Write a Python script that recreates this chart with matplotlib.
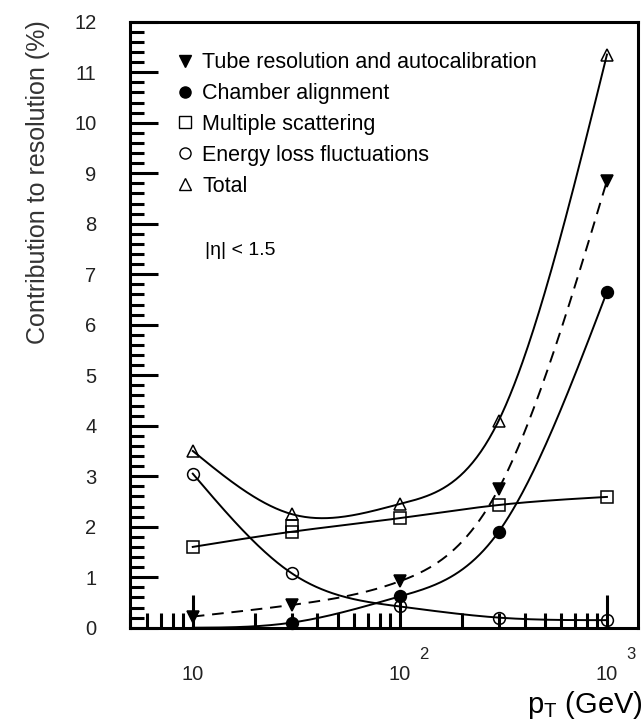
import matplotlib
matplotlib.use('Agg')
import matplotlib.pyplot as plt
from matplotlib.lines import Line2D
from matplotlib.ticker import FixedLocator, LogLocator, NullFormatter, MultipleLocator
import numpy as np

# pT points (GeV) and contributions (%)
pt = np.array([10, 30, 100, 300, 1000])
tube = np.array([0.22, 0.45, 0.92, 2.75, 8.85])
chamber = np.array([0.0, 0.10, 0.62, 1.90, 6.65])
mult_scat = np.array([1.60, 1.90, 2.17, 2.43, 2.59])
eloss = np.array([3.05, 1.08, 0.42, 0.20, 0.15])
total = np.array([3.50, 2.25, 2.45, 4.10, 11.35])

# extra square drawn at 30 GeV (overlapping marker)
ms_extra_x = [30]
ms_extra_y = [2.02]

xticks = [10, 100, 1000]
xtick_exp = ['', '2', '3']


def spline(x, y, n=300):
    """natural cubic spline in log10(x), used only for drawing the curves"""
    t = np.log10(x)
    k = len(t)
    h = np.diff(t)
    A = np.zeros((k, k))
    b = np.zeros(k)
    A[0, 0] = A[-1, -1] = 1
    for i in range(1, k - 1):
        A[i, i - 1] = h[i - 1]
        A[i, i] = 2 * (h[i - 1] + h[i])
        A[i, i + 1] = h[i]
        b[i] = 3 * ((y[i + 1] - y[i]) / h[i] - (y[i] - y[i - 1]) / h[i - 1])
    c = np.linalg.solve(A, b)
    bb = (y[1:] - y[:-1]) / h - h * (2 * c[:-1] + c[1:]) / 3
    d = (c[1:] - c[:-1]) / (3 * h)
    tt = np.linspace(t[0], t[-1], n)
    idx = np.clip(np.searchsorted(t, tt) - 1, 0, k - 2)
    dt = tt - t[idx]
    yy = y[idx] + bb[idx] * dt + c[idx] * dt ** 2 + d[idx] * dt ** 3
    return 10 ** tt, yy


plt.rcParams.update({
    'font.family': ['Liberation Sans', 'DejaVu Sans'],
    'mathtext.default': 'regular',
})

fig = plt.figure(figsize=(6.43, 7.24), dpi=100)
ax = fig.add_axes([0.202, 0.133, 0.790, 0.837])

lw = 1.4
ax.plot(*spline(pt, tube), '--', color='black', lw=lw, dashes=(6, 4))
ax.plot(*spline(pt, chamber), '-', color='black', lw=lw)
ax.plot(*spline(pt, mult_scat), '-', color='black', lw=lw)
ax.plot(*spline(pt, eloss), '-', color='black', lw=lw)
ax.plot(*spline(pt, total), '-', color='black', lw=lw)

mk = dict(linestyle='none', markersize=8.5, markeredgewidth=1.1, color='black', clip_on=False)
ax.plot(pt, tube, marker='v', markerfacecolor='black', **mk)
ax.plot(pt[1:], chamber[1:], marker='o', markerfacecolor='black', **mk)
ax.plot(pt, mult_scat, marker='s', markerfacecolor='none', **mk)
ax.plot(ms_extra_x, ms_extra_y, marker='s', markerfacecolor='none', **mk)
ax.plot(pt, eloss, marker='o', markerfacecolor='none', **mk)
ax.plot(pt, total, marker='^', markerfacecolor='none', **mk)

ax.set_xscale('log')
ax.set_xlim(4.97, 1410)
ax.set_ylim(0, 12)

ax.yaxis.set_major_locator(MultipleLocator(1))
ax.yaxis.set_minor_locator(MultipleLocator(0.2))
ax.xaxis.set_major_locator(FixedLocator(xticks))
ax.xaxis.set_minor_locator(LogLocator(base=10, subs=np.arange(2, 10)))
ax.xaxis.set_minor_formatter(NullFormatter())
ax.set_xticklabels(['10'] * len(xticks))

ax.tick_params(axis='both', which='both', direction='in', width=2.2,
               top=False, right=False, labelsize=14.5, labelcolor='#222222')
ax.tick_params(axis='y', which='major', length=20, pad=24)
ax.tick_params(axis='y', which='minor', length=10)
ax.tick_params(axis='x', which='major', length=24, pad=27)
ax.tick_params(axis='x', which='minor', length=11)
for s in ax.spines.values():
    s.set_linewidth(2.2)

# raised exponents next to the "10" tick labels
for xv, e in zip(xticks, xtick_exp):
    if e:
        ax.annotate(e, xy=(xv, 0), xycoords=('data', 'axes fraction'),
                    xytext=(17, -19), textcoords='offset points',
                    ha='center', va='center', fontsize=12, color='#222222')

ax.set_ylabel('Contribution to resolution (%)', fontsize=18, color='#333333')
ax.yaxis.set_label_coords(-0.158, 0.735)
fig.text(0.999, 0.004, 'p$_T$ (GeV)', ha='right', va='bottom', fontsize=21)

handles = [
    Line2D([], [], marker='v', color='black', markerfacecolor='black', linestyle='none', markersize=8),
    Line2D([], [], marker='o', color='black', markerfacecolor='black', linestyle='none', markersize=8),
    Line2D([], [], marker='s', color='black', markerfacecolor='none', linestyle='none', markersize=9),
    Line2D([], [], marker='o', color='black', markerfacecolor='none', linestyle='none', markersize=8),
    Line2D([], [], marker='^', color='black', markerfacecolor='none', linestyle='none', markersize=9),
]
labels = ['Tube resolution and autocalibration', 'Chamber alignment',
          'Multiple scattering', 'Energy loss fluctuations', 'Total']
ax.legend(handles, labels, loc='upper left', bbox_to_anchor=(0.075, 0.964),
          frameon=False, fontsize=15.5, handlelength=0.8, handletextpad=0.4,
          labelspacing=0.46, borderaxespad=0)

ax.text(0.148, 0.623, '|η| < 1.5', transform=ax.transAxes, fontsize=14,
        ha='left', va='center')

fig.savefig('out.png', dpi=100)
